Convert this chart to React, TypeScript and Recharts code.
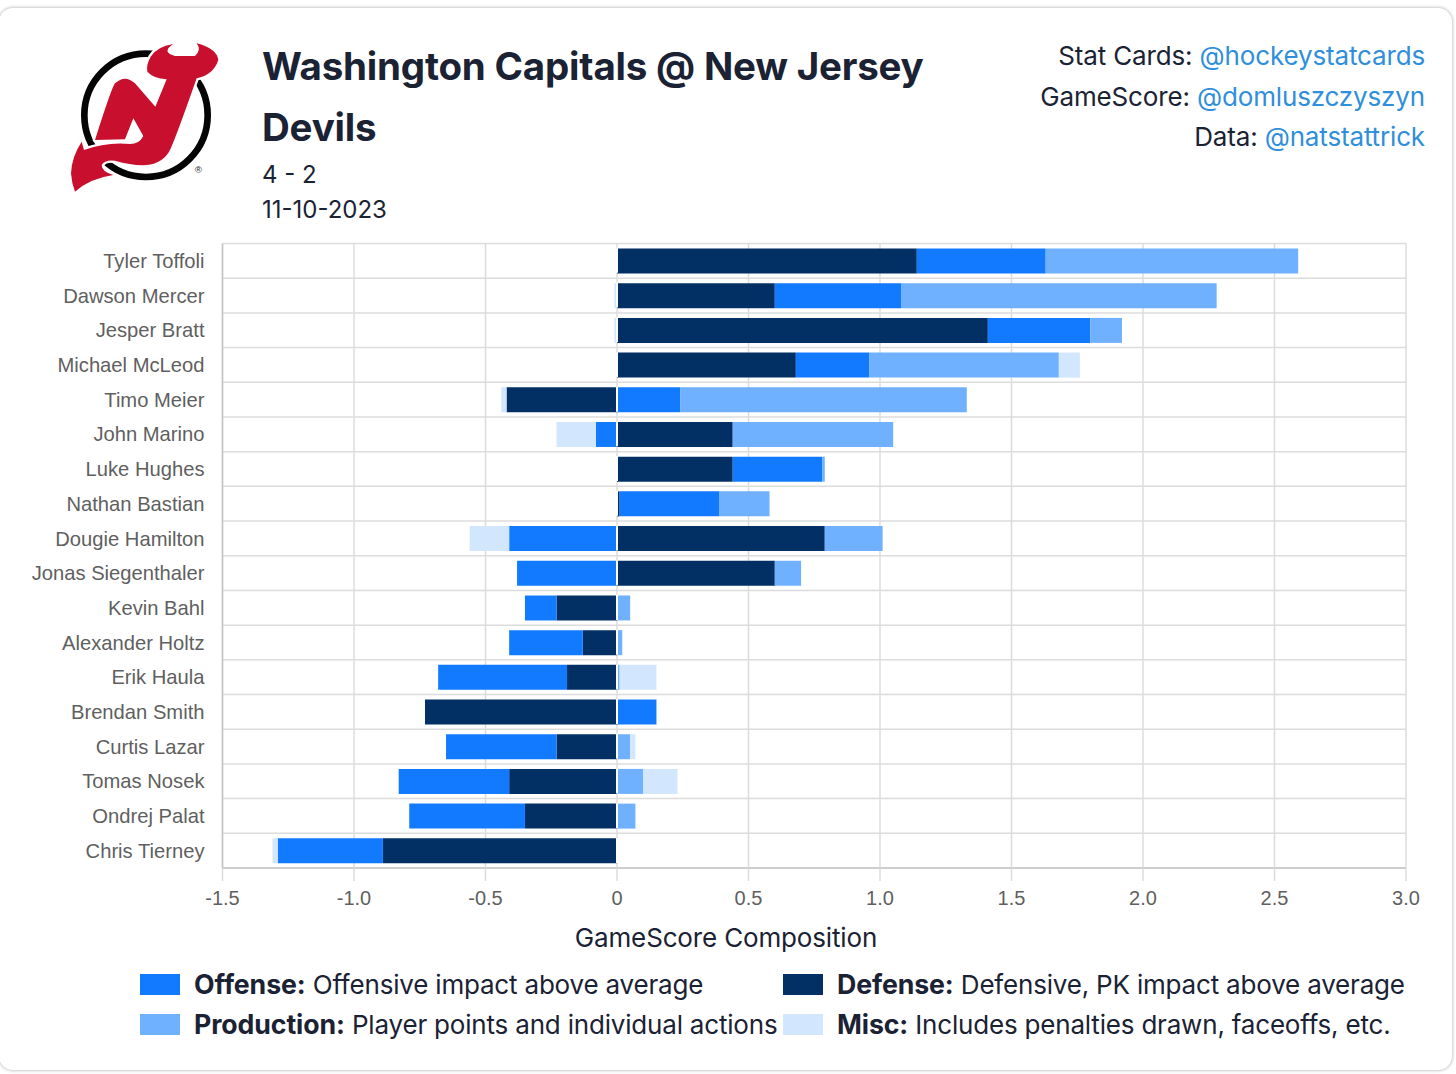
import { BarChart, Bar, XAxis, YAxis, CartesianGrid, ReferenceLine } from 'recharts';

const players = [
  'Tyler Toffoli', 'Dawson Mercer', 'Jesper Bratt', 'Michael McLeod', 'Timo Meier', 'John Marino',
  'Luke Hughes', 'Nathan Bastian', 'Dougie Hamilton', 'Jonas Siegenthaler', 'Kevin Bahl', 'Alexander Holtz',
  'Erik Haula', 'Brendan Smith', 'Curtis Lazar', 'Tomas Nosek', 'Ondrej Palat', 'Chris Tierney',
];
const defense = [1.14, 0.6, 1.41, 0.68, -0.42, 0.44, 0.44, 0.01, 0.79, 0.6, -0.23, -0.13, -0.19, -0.73, -0.23, -0.41, -0.35, -0.89];
const offense = [0.49, 0.48, 0.39, 0.28, 0.24, -0.08, 0.34, 0.38, -0.41, -0.38, -0.12, -0.28, -0.49, 0.15, -0.42, -0.42, -0.44, -0.4];
const production = [0.96, 1.2, 0.12, 0.72, 1.09, 0.61, 0.01, 0.19, 0.22, 0.1, 0.05, 0.02, 0.01, 0, 0.05, 0.1, 0.07, 0];
const misc = [0, -0.01, -0.01, 0.08, -0.02, -0.15, 0, 0, -0.15, 0, 0, 0, 0.14, 0, 0.02, 0.13, 0, -0.02];
const xTicks = [-1.5, -1, -0.5, 0, 0.5, 1, 1.5, 2, 2.5, 3];
const rowEdges = [0, 1, 2, 3, 4, 5, 6, 7, 8, 9, 10, 11, 12, 13, 14, 15, 16, 17, 18];

const OFFENSE = '#127AFF';
const DEFENSE = '#023064';
const PRODUCTION = '#6FB1FF';
const MISC = '#D2E6FE';

const credits = [
  { label: 'Stat Cards: ', handle: '@hockeystatcards' },
  { label: 'GameScore: ', handle: '@domluszczyszyn' },
  { label: 'Data: ', handle: '@natstattrick' },
];
const legendItems = [
  { color: OFFENSE, name: 'Offense:', text: 'Offensive impact above average', left: 140, top: 964 },
  { color: DEFENSE, name: 'Defense:', text: 'Defensive, PK impact above average', left: 783, top: 964 },
  { color: PRODUCTION, name: 'Production:', text: 'Player points and individual actions', left: 140, top: 1004 },
  { color: MISC, name: 'Misc:', text: 'Includes penalties drawn, faceoffs, etc.', left: 783, top: 1004 },
];

const chartData = players.map((name, i) => ({
  name,
  defense: defense[i],
  offense: offense[i],
  production: production[i],
  misc: misc[i],
}));

const TEXT = '#1a2234';
const GRID = '#dcdcdc';
const AXIS = '#c4c4c4';
const font = 'Inter, sans-serif';

function DevilsLogo() {
  return (
    <svg width={240} height={210} viewBox="0 0 720 630" style={{ position: 'absolute', left: 0, top: 0 }}>
      <circle cx={438} cy={346} r={185} fill="#fff" stroke="#050505" strokeWidth={20} />
      <path
        d="M520 132 Q470 140 452 170 Q438 195 442 215 Q460 235 500 238 L466 320 L405 250 Q375 222 345 250 Q335 262 285 420 L375 418 L400 355 L430 408 Q418 432 390 432 Q320 425 252 450 L245 425 Q215 470 213 520 Q215 550 225 575 Q270 535 340 525 Q305 515 305 495 Q315 478 345 482 Q400 498 440 495 Q490 490 510 450 Q525 420 590 235 Q640 225 655 180 Q650 145 590 130 Q605 150 585 168 L525 168 Q495 160 505 145 Q510 138 520 132 Z"
        fill="#C8102E"
        stroke="#fff"
        strokeWidth={14}
        paintOrder="stroke"
        strokeLinejoin="round"
      />
      <text x={595} y={518} fontSize={28} textAnchor="middle" fill="#222" fontFamily="Liberation Sans">®</text>
    </svg>
  );
}

export default function App() {
  return (
    <div style={{ position: 'absolute', left: 0, top: 0, width: 1456, height: 1074, background: '#fff', fontFamily: font, color: TEXT, overflow: 'hidden' }}>
      <div style={{ position: 'absolute', left: -1, top: 8, width: 1453, height: 1062, borderRadius: 14, boxShadow: '0 0 3px 1px rgba(0,0,0,0.22)', background: '#fff' }} />
      <DevilsLogo />

      <div style={{ position: 'absolute', left: 262, top: 36, width: 700, fontSize: 38.5, letterSpacing: -0.2, fontWeight: 700, lineHeight: '60.5px' }}>
        Washington Capitals @ New Jersey Devils
      </div>
      <div style={{ position: 'absolute', left: 262, top: 157, fontSize: 24, lineHeight: '35px' }}>
        <div>4 - 2</div>
        <div>11-10-2023</div>
      </div>
      <div style={{ position: 'absolute', right: 31, top: 36, fontSize: 26, letterSpacing: -0.15, lineHeight: '40.5px', textAlign: 'right' }}>
        {credits.map((c) => (
          <div key={c.handle}>
            {c.label}
            <span style={{ color: '#2F8FDB' }}>{c.handle}</span>
          </div>
        ))}
      </div>

      <div style={{ position: 'absolute', left: 0, top: 230 }}>
        <BarChart
          width={1456}
          height={720}
          data={chartData}
          layout="vertical"
          stackOffset="sign"
          barSize={25}
          margin={{ top: 13.5, right: 50, bottom: 0, left: 0.5 }}
        >
          <CartesianGrid
            stroke={GRID}
            strokeWidth={1.5}
            horizontalCoordinatesGenerator={({ offset }: any) =>
              rowEdges.map((e) => offset.top + (offset.height * e) / players.length)
            }
          />
          <XAxis
            type="number"
            domain={[-1.5, 3]}
            ticks={xTicks}
            interval={0}
            height={82}
            tickSize={13}
            tickMargin={10}
            axisLine={{ stroke: AXIS, strokeWidth: 1.5 }}
            tickLine={{ stroke: GRID, strokeWidth: 1.5 }}
            tick={{ fontSize: 20, fill: '#5f5f5f', fontFamily: 'Liberation Sans' }}
            tickFormatter={(v: number) => (v === 0 ? '0' : v.toFixed(1))}
          />
          <YAxis
            type="number"
            domain={[0, 18]}
            ticks={rowEdges}
            interval={0}
            width={1}
            tickSize={13}
            tick={false}
            axisLine={{ stroke: AXIS, strokeWidth: 1.5 }}
            tickLine={{ stroke: GRID, strokeWidth: 1.5 }}
          />
          <YAxis
            yAxisId="names"
            type="category"
            dataKey="name"
            interval={0}
            width={221}
            axisLine={false}
            tickLine={false}
            tickSize={0}
            tickMargin={17}
            tick={{ fontSize: 20.2, fill: '#5f5f5f', fontFamily: 'Liberation Sans' }}
          />
          <Bar yAxisId="names" dataKey="defense" stackId="a" fill={DEFENSE} isAnimationActive={false} />
          <Bar yAxisId="names" dataKey="offense" stackId="a" fill={OFFENSE} isAnimationActive={false} />
          <Bar yAxisId="names" dataKey="production" stackId="a" fill={PRODUCTION} isAnimationActive={false} />
          <Bar yAxisId="names" dataKey="misc" stackId="a" fill={MISC} isAnimationActive={false} />
          <ReferenceLine yAxisId="names" x={0} stroke="#fff" strokeWidth={2} strokeDasharray="25 9.72" strokeDashoffset={-5} />
        </BarChart>
      </div>

      <div style={{ position: 'absolute', left: 0, top: 920, width: 1452, textAlign: 'center', fontSize: 26, letterSpacing: -0.15, lineHeight: '36px' }}>
        GameScore Composition
      </div>

      {legendItems.map((item) => (
        <div key={item.name} style={{ position: 'absolute', left: item.left, top: item.top, height: 40, display: 'flex', alignItems: 'center', fontSize: 26, letterSpacing: -0.19, whiteSpace: 'nowrap' }}>
          <span style={{ width: 40, height: 21, background: item.color, marginRight: 14 }} />
          <b style={{ fontSize: 26.7, letterSpacing: -0.1 }}>{item.name}</b>&nbsp;{item.text}
        </div>
      ))}
    </div>
  );
}
